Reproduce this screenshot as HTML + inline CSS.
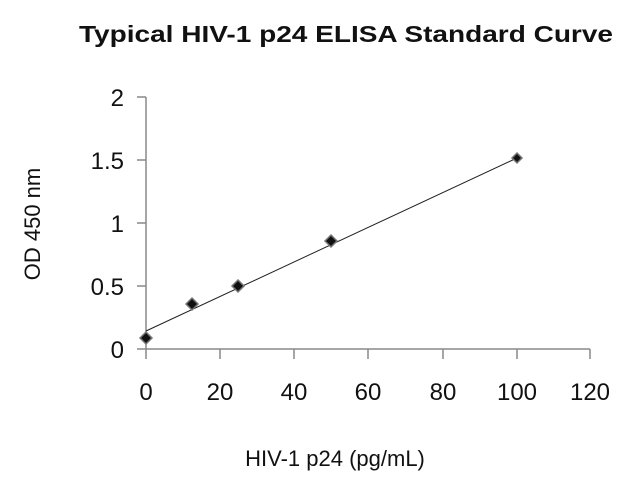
<!DOCTYPE html>
<html><head><style>body{margin:0;background:#fff}</style></head><body>
<svg width="640" height="481" xmlns="http://www.w3.org/2000/svg" font-family="Liberation Sans, sans-serif">
<rect width="640" height="481" fill="#fff"/>
<text x="346" y="42" text-anchor="middle" font-size="23" font-weight="bold" fill="#111" textLength="534" lengthAdjust="spacingAndGlyphs">Typical HIV-1 p24 ELISA Standard Curve</text>
<g stroke="#888" stroke-width="1.5" fill="none">
<line x1="146" y1="97" x2="146" y2="349"/>
<line x1="146" y1="349" x2="590" y2="349"/>
<line x1="137" y1="97" x2="146" y2="97"/>
<line x1="137" y1="160" x2="146" y2="160"/>
<line x1="137" y1="223" x2="146" y2="223"/>
<line x1="137" y1="286" x2="146" y2="286"/>
<line x1="137" y1="349" x2="146" y2="349"/>
<line x1="146" y1="349" x2="146" y2="359"/>
<line x1="220" y1="349" x2="220" y2="359"/>
<line x1="294" y1="349" x2="294" y2="359"/>
<line x1="368" y1="349" x2="368" y2="359"/>
<line x1="443" y1="349" x2="443" y2="359"/>
<line x1="517" y1="349" x2="517" y2="359"/>
<line x1="590" y1="349" x2="590" y2="359"/>
</g>
<g font-size="24" fill="#111" text-anchor="end">
<text x="124" y="106">2</text>
<text x="124" y="169">1.5</text>
<text x="124" y="232">1</text>
<text x="124" y="295">0.5</text>
<text x="124" y="358">0</text>
</g>
<g font-size="24" fill="#111" text-anchor="middle">
<text x="146" y="400">0</text>
<text x="220" y="400">20</text>
<text x="294" y="400">40</text>
<text x="368" y="400">60</text>
<text x="443" y="400">80</text>
<text x="517" y="400">100</text>
<text x="590" y="400">120</text>
</g>
<text x="335" y="466" text-anchor="middle" font-size="22" fill="#111">HIV-1 p24 (pg/mL)</text>
<text transform="translate(40,224) rotate(-90)" text-anchor="middle" font-size="22" fill="#111">OD 450 nm</text>
<line x1="146" y1="331" x2="517" y2="158" stroke="#222" stroke-width="1"/>
<g fill="#111" stroke="#777" stroke-width="1.5">
<path d="M146 332 L152 338 L146 344 L140 338Z"/>
<path d="M192 298 L198 304 L192 310 L186 304Z"/>
<path d="M238 280 L244 286 L238 292 L232 286Z"/>
<path d="M331 235 L337 241 L331 247 L325 241Z"/>
<path d="M517 153 L522 158 L517 163 L512 158Z"/>
</g>
</svg>
</body></html>
